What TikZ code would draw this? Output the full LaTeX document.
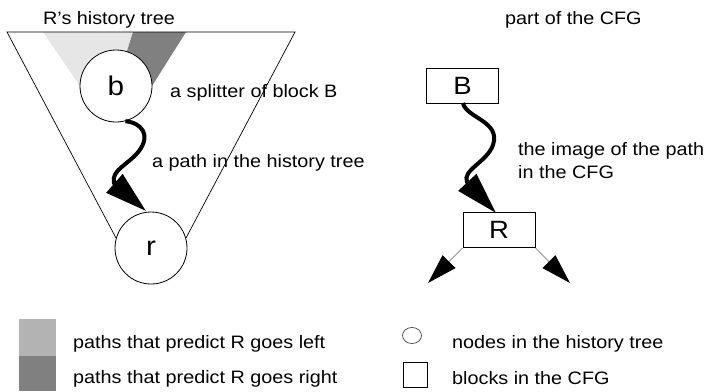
\documentclass[tikz,border=0pt]{standalone}
\usepackage{fontspec}
\setmainfont{Liberation Sans}[FakeStretch=1.1]
\usetikzlibrary{arrows.meta}
\definecolor{lightwedge}{HTML}{E6E6E6}
\definecolor{darkwedge}{HTML}{808080}
\definecolor{lightkey}{HTML}{B3B3B3}
\definecolor{thinarrow}{HTML}{A0A0A0}
\begin{document}
\begin{tikzpicture}[x=1pt,y=-1pt,
  lbl/.style={anchor=base west, inner sep=0pt, font=\fontsize{18}{20}\selectfont},
  treenode/.style={circle, draw, line width=0.8pt, fill=white, minimum size=72pt, inner sep=0pt, font=\fontsize{27}{30}\selectfont},
  cfgblock/.style={rectangle, draw, line width=1pt, fill=white, minimum width=72pt, minimum height=35pt, inner sep=0pt, font=\fontsize{25}{28}\selectfont},
  wavy/.style={line width=4pt, -{Triangle[length=42pt,width=24pt]}},
  branch/.style={thinarrow, line width=1pt, -{Triangle[length=30pt,width=18pt,color=black]}}
]
\useasboundingbox (0,0) rectangle (706,391);
% wedges of paths
\fill[lightwedge] (43,32) -- (133,32) -- (116,86) -- (80,86) -- cycle;
\fill[darkwedge] (133,32) -- (186,32) -- (152,86) -- (116,86) -- cycle;
% history tree outline (its sides end on node r)
\draw[line width=0.7pt] (116,238) -- (7,32) -- (295,32) -- (186,238);
\node[treenode] (b) at (116,86) {b};
\node[treenode] (r) at (151,248) {r};
% CFG blocks
\node[cfgblock] (B) at (462.5,85.5) {B};
\node[cfgblock] (R) at (499,230) {R};
% wavy paths
\coordinate (tipr) at (146,211);
\draw[wavy] (b.-75) .. controls (142,123) and (151,135) .. (139,151)
   .. controls (128,165) and (111,170) .. (114,183) -- (tipr);
\coordinate (tipR) at (496,213);
\draw[wavy] (463,103) .. controls (466,118) and (501,121) .. (493,145)
   .. controls (487,162) and (462,170) .. (467,182) -- (tipR);
% branches out of R
\coordinate (outL) at (428,283);
\coordinate (outR) at (570,283);
\draw[branch] (R.south west) -- (outL);
\draw[branch] (R.south east) -- (outR);
% labels
\node[lbl] (t1) at (43,24) {R’s history tree};
\node[lbl] (t2) at (505,24) {part of the CFG};
\node[lbl] (t3) at (170,97) {a splitter of block B};
\node[lbl] (t4) at (152,167) {a path in the history tree};
\node[lbl] (t5) at (518,155) {the image of the path};
\node[lbl] (t6) at (518,178) {in the CFG};
% legend
\fill[lightkey] (19,319) rectangle (56,356);
\fill[darkwedge] (19,356) rectangle (56,391);
\node[lbl] (k1) at (73,348) {paths that predict R goes left};
\node[lbl] (k2) at (73,383) {paths that predict R goes right};
\draw[line width=0.7pt, black!75] (412,335.5) ellipse [x radius=9.5, y radius=8];
\draw[line width=1pt] (403,362) rectangle (427,387);
\node[lbl] (k3) at (452,348) {nodes in the history tree};
\node[lbl] (k4) at (452,384) {blocks in the CFG};
\end{tikzpicture}
\end{document}
